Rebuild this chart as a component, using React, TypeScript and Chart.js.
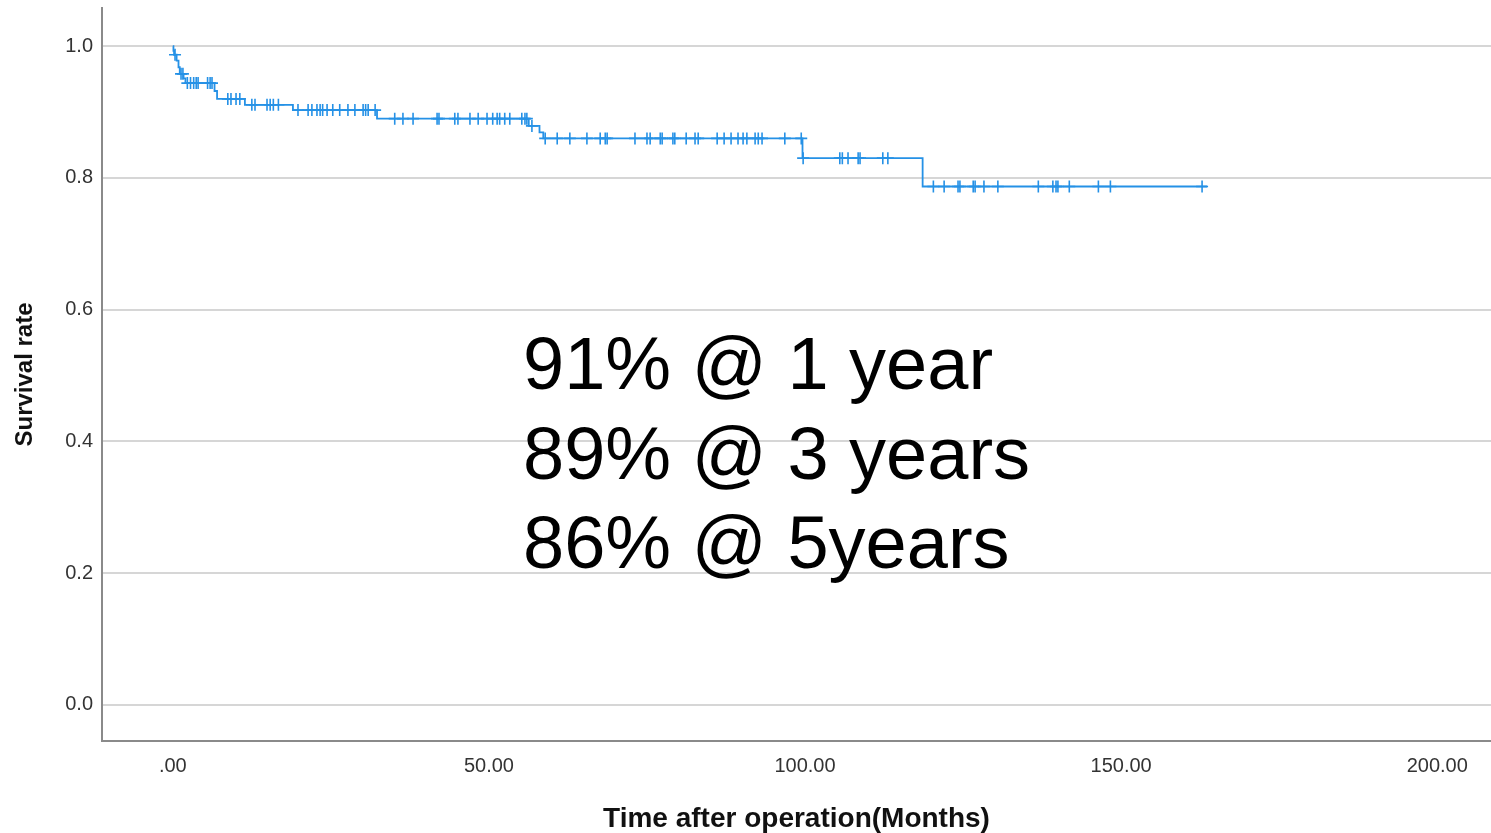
import React, { useEffect, useRef } from 'react';
import { Chart, registerables } from 'chart.js';

Chart.register(...registerables);

// Kaplan-Meier steps: event times (months) and survival after each event
const eventTimes = [0, 0.1, 0.2, 0.6, 0.9, 1.1, 1.7, 2.0, 6.6, 7.0, 11.4, 19.0, 32.3, 56.3, 58.0, 58.6, 99.6, 118.6];
const survival = [1.0, 0.993, 0.987, 0.978, 0.968, 0.958, 0.951, 0.944, 0.932, 0.92, 0.911, 0.903, 0.89, 0.879, 0.869, 0.86, 0.83, 0.787];
const lastFollowUp = 163.6;

// Censored observations (months)
const censorTimes = [
  0.35, 1.3, 1.6, 2.3, 2.8, 3.3, 3.7, 4.0, 5.5, 5.9, 6.2,
  8.7, 9.2, 10.0, 10.6,
  12.5, 13.0, 14.9, 15.4, 15.9, 16.7,
  19.8, 21.4, 22.0, 22.8, 23.3, 23.7, 24.4, 25.3, 26.4, 27.7, 28.8, 30.1, 30.5, 30.9, 32.0,
  35.1, 36.4, 38.0, 41.8, 42.1, 44.6, 45.1, 47.0, 48.3, 49.7, 50.6, 51.3, 51.7, 52.5, 53.3, 55.2, 55.7, 56.0,
  56.8,
  58.9, 60.8, 62.8, 65.5, 67.6, 68.4, 68.7, 73.1, 75.0, 75.5, 77.1, 77.4, 79.1, 79.4, 81.2, 82.6, 83.1,
  86.1, 87.2, 88.3, 89.4, 90.2, 90.8, 92.1, 92.6, 93.2, 96.8, 99.4,
  99.7, 105.5, 105.9, 106.8, 108.4, 108.7, 112.3, 113.1,
  120.3, 122.0, 124.2, 124.5, 126.6, 126.9, 128.3, 130.5, 136.9, 139.2, 139.7, 140.0, 141.8, 146.4, 148.3, 162.8,
];

const xTicks = [0, 50, 100, 150, 200];
const yTicks = [0, 0.2, 0.4, 0.6, 0.8, 1.0];
const annotationLines = ['91% @ 1 year', '89% @ 3 years', '86% @ 5years'];
const annotationAnchor = { x: 55.4, y: 0.479, step: 0.1356 };

const BLUE = '#2591e6';
const FONT = '"Liberation Sans", Arial, sans-serif';

function survivalAt(t: number): number {
  let s = 1;
  for (let i = 0; i < eventTimes.length; i++) {
    if (eventTimes[i] <= t) s = survival[i];
  }
  return s;
}

const annotationPlugin = {
  id: 'kmAnnotation',
  afterDatasetsDraw(chart: any) {
    const { ctx, scales } = chart;
    const x = scales.x.getPixelForValue(annotationAnchor.x);
    ctx.save();
    ctx.font = '74px ' + FONT;
    ctx.fillStyle = '#000';
    ctx.textAlign = 'left';
    ctx.textBaseline = 'alphabetic';
    annotationLines.forEach((line, i) => {
      const y = scales.y.getPixelForValue(annotationAnchor.y - i * annotationAnchor.step);
      ctx.fillText(line, x, y);
    });
    ctx.restore();
  },
};

function zeroPadding(scale: any) {
  scale.paddingTop = 0;
  scale.paddingBottom = 0;
  scale.paddingLeft = 0;
  scale.paddingRight = 0;
}

export default function App() {
  const ref = useRef<HTMLCanvasElement | null>(null);

  useEffect(() => {
    if (!ref.current) return;
    const stepData = eventTimes.map((t, i) => ({ x: t, y: survival[i] }));
    stepData.push({ x: lastFollowUp, y: survival[survival.length - 1] });
    const censorData = censorTimes.map((t) => ({ x: t, y: survivalAt(t) }));

    const chart = new Chart(ref.current, {
      type: 'scatter',
      data: {
        datasets: [
          {
            type: 'line',
            data: stepData,
            stepped: true,
            borderColor: BLUE,
            borderWidth: 1.8,
            pointRadius: 0,
            fill: false,
          } as any,
          {
            type: 'scatter',
            data: censorData,
            pointStyle: 'cross',
            pointRadius: 6,
            borderColor: BLUE,
            backgroundColor: BLUE,
            pointBorderWidth: 1.6,
            borderWidth: 1.6,
          } as any,
        ],
      },
      options: {
        responsive: false,
        animation: false,
        layout: { autoPadding: false, padding: { top: 8, left: 0, right: 0, bottom: 0 } },
        plugins: { legend: { display: false }, tooltip: { enabled: false } },
        scales: {
          x: {
            type: 'linear',
            min: -11.2,
            max: 208.5,
            afterBuildTicks: (scale: any) => {
              scale.ticks = xTicks.map((v) => ({ value: v }));
            },
            afterFit: (scale: any) => {
              scale.height = 92;
              zeroPadding(scale);
            },
            grid: { display: false, drawTicks: false },
            border: { display: true, color: '#8a8a8a', width: 2 },
            ticks: {
              padding: 13,
              color: '#333',
              font: { family: FONT, size: 20 },
              callback: (v: any) => (Number(v) === 0 ? '.00' : Number(v).toFixed(2)),
              maxRotation: 0,
            },
            title: {
              display: true,
              text: 'Time after operation(Months)',
              color: '#111',
              font: { family: FONT, size: 28, weight: 'bold' },
              padding: { top: 0, bottom: -3 },
            },
          },
          y: {
            type: 'linear',
            min: -0.055,
            max: 1.058,
            afterBuildTicks: (scale: any) => {
              scale.ticks = yTicks.map((v) => ({ value: v }));
            },
            afterFit: (scale: any) => {
              scale.width = 102;
              zeroPadding(scale);
            },
            grid: { display: true, drawTicks: false, color: '#d6d6d6', lineWidth: 2 },
            border: { display: true, color: '#8a8a8a', width: 2 },
            ticks: {
              padding: 9,
              color: '#333',
              font: { family: FONT, size: 20 },
              callback: (v: any) => Number(v).toFixed(1),
            },
            title: {
              display: true,
              text: 'Survival rate',
              color: '#111',
              font: { family: FONT, size: 24, weight: 'bold' },
              padding: { top: 11, bottom: 0 },
            },
          },
        },
      },
      plugins: [annotationPlugin],
    });
    return () => chart.destroy();
  }, []);

  return (
    <div style={{ position: 'absolute', left: 0, top: 0, width: 1491, height: 833, background: '#fff' }}>
      <canvas ref={ref} width={1491} height={833} style={{ display: 'block' }} />
    </div>
  );
}
